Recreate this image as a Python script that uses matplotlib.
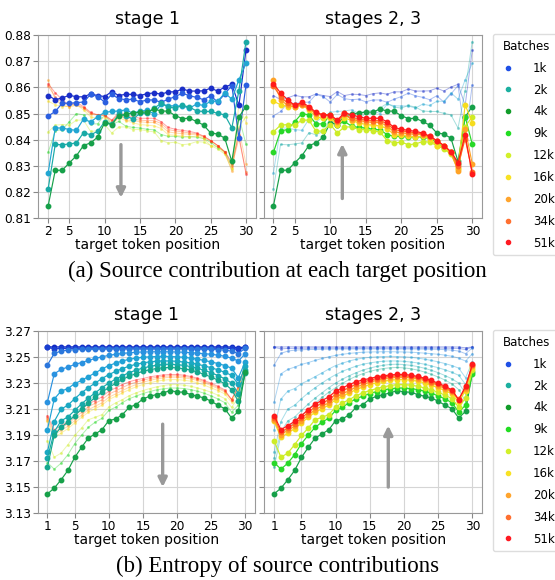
import matplotlib.pyplot as plt
from matplotlib.lines import Line2D

# x positions
pos_a = list(range(2, 31))
pos_b = list(range(1, 31))

# (a) source contribution, stage 1 checkpoints (1k .. 4k)
src_1k = [0.8569, 0.8553, 0.8560, 0.8570, 0.8564, 0.8564, 0.8575, 0.8569, 0.8565, 0.8584,
          0.8569, 0.8574, 0.8573, 0.8569, 0.8576, 0.8579, 0.8574, 0.8583, 0.8583, 0.8594,
          0.8586, 0.8586, 0.8587, 0.8597, 0.8586, 0.8601, 0.8612, 0.8531, 0.8742]
src_1_5k = [0.8491, 0.8508, 0.8540, 0.8539, 0.8542, 0.8544, 0.8573, 0.8565, 0.8544, 0.8573,
            0.8557, 0.8553, 0.8555, 0.8545, 0.8552, 0.8552, 0.8543, 0.8555, 0.8565, 0.8578,
            0.8568, 0.8562, 0.8553, 0.8568, 0.8544, 0.8575, 0.8607, 0.8407, 0.8609]
src_2k = [0.8274, 0.8445, 0.8445, 0.8439, 0.8436, 0.8479, 0.8468, 0.8488, 0.8505, 0.8508,
          0.8510, 0.8514, 0.8501, 0.8510, 0.8512, 0.8500, 0.8536, 0.8530, 0.8529, 0.8529,
          0.8521, 0.8536, 0.8531, 0.8547, 0.8547, 0.8579, 0.8555, 0.8629, 0.8692]
src_3k = [0.8213, 0.8382, 0.8381, 0.8384, 0.8388, 0.8427, 0.8419, 0.8432, 0.8469, 0.8460,
          0.8497, 0.8492, 0.8479, 0.8501, 0.8501, 0.8521, 0.8539, 0.8525, 0.8521, 0.8531,
          0.8525, 0.8510, 0.8508, 0.8508, 0.8501, 0.8495, 0.8445, 0.8588, 0.8775]
src_4k = [0.8148, 0.8283, 0.8284, 0.8312, 0.8339, 0.8378, 0.8388, 0.8410, 0.8465, 0.8458,
          0.8492, 0.8497, 0.8503, 0.8505, 0.8506, 0.8517, 0.8510, 0.8509, 0.8492, 0.8481,
          0.8482, 0.8470, 0.8456, 0.8426, 0.8422, 0.8406, 0.8317, 0.8487, 0.8527]
# stages 2, 3 checkpoints (9k .. 51k)
src_9k = [0.8352, 0.8434, 0.8439, 0.8469, 0.8500, 0.8495, 0.8460, 0.8461, 0.8495, 0.8458,
          0.8470, 0.8452, 0.8447, 0.8445, 0.8440, 0.8438, 0.8420, 0.8413, 0.8413, 0.8410,
          0.8412, 0.8410, 0.8405, 0.8390, 0.8370, 0.8355, 0.8307, 0.8488, 0.8383]
src_12k = [0.8430, 0.8456, 0.8458, 0.8456, 0.8475, 0.8475, 0.8432, 0.8434, 0.8458, 0.8426,
           0.8449, 0.8449, 0.8439, 0.8439, 0.8434, 0.8430, 0.8397, 0.8388, 0.8391, 0.8381,
           0.8384, 0.8393, 0.8391, 0.8378, 0.8365, 0.8345, 0.8287, 0.8450, 0.8488]
src_16k = [0.8547, 0.8534, 0.8527, 0.8527, 0.8534, 0.8514, 0.8488, 0.8482, 0.8484, 0.8456,
           0.8484, 0.8473, 0.8465, 0.8458, 0.8456, 0.8453, 0.8443, 0.8419, 0.8417, 0.8414,
           0.8410, 0.8414, 0.8404, 0.8378, 0.8375, 0.8348, 0.8294, 0.8534, 0.8465]
src_20k = [0.8627, 0.8553, 0.8531, 0.8527, 0.8531, 0.8521, 0.8497, 0.8495, 0.8495, 0.8466,
           0.8501, 0.8475, 0.8473, 0.8469, 0.8466, 0.8466, 0.8453, 0.8430, 0.8426, 0.8423,
           0.8421, 0.8419, 0.8410, 0.8394, 0.8378, 0.8352, 0.8280, 0.8442, 0.8308]
src_34k = [0.8605, 0.8564, 0.8540, 0.8534, 0.8536, 0.8523, 0.8501, 0.8495, 0.8492, 0.8473,
           0.8497, 0.8482, 0.8479, 0.8475, 0.8473, 0.8473, 0.8462, 0.8439, 0.8434, 0.8430,
           0.8426, 0.8423, 0.8413, 0.8397, 0.8378, 0.8352, 0.8300, 0.8404, 0.8277]
src_51k = [0.8614, 0.8579, 0.8553, 0.8531, 0.8543, 0.8527, 0.8505, 0.8495, 0.8495, 0.8475,
           0.8504, 0.8495, 0.8488, 0.8482, 0.8482, 0.8482, 0.8469, 0.8447, 0.8440, 0.8436,
           0.8432, 0.8426, 0.8414, 0.8397, 0.8378, 0.8355, 0.8313, 0.8417, 0.8270]

# (b) entropy, stage 1 checkpoints
ent_1k = [3.2579, 3.2577, 3.2578, 3.2578, 3.2578, 3.2578, 3.2578, 3.2578, 3.2578, 3.2578,
          3.2578, 3.2578, 3.2578, 3.2578, 3.2578, 3.2578, 3.2578, 3.2578, 3.2578, 3.2578,
          3.2578, 3.2578, 3.2578, 3.2578, 3.2578, 3.2578, 3.2578, 3.2577, 3.2571, 3.2578]
ent_1_25k = [3.2575, 3.2563, 3.2566, 3.2567, 3.2568, 3.2568, 3.2569, 3.2569, 3.2569, 3.2569,
             3.2569, 3.2569, 3.2569, 3.2569, 3.2569, 3.2569, 3.2569, 3.2569, 3.2569, 3.2569,
             3.2569, 3.2569, 3.2569, 3.2569, 3.2569, 3.2568, 3.2568, 3.2566, 3.2558, 3.2576]
ent_1_5k = [3.2438, 3.2528, 3.2546, 3.2553, 3.2556, 3.2558, 3.2559, 3.2560, 3.2561, 3.2561,
            3.2562, 3.2562, 3.2562, 3.2562, 3.2562, 3.2562, 3.2562, 3.2562, 3.2562, 3.2562,
            3.2562, 3.2561, 3.2561, 3.2560, 3.2559, 3.2557, 3.2553, 3.2546, 3.2526, 3.2570]
ent_1_75k = [3.2153, 3.2371, 3.2405, 3.2423, 3.2443, 3.2458, 3.2474, 3.2489, 3.2502, 3.2513,
             3.2521, 3.2528, 3.2533, 3.2537, 3.2539, 3.2540, 3.2541, 3.2541, 3.2540, 3.2539,
             3.2537, 3.2534, 3.2530, 3.2526, 3.2521, 3.2515, 3.2506, 3.2492, 3.2469, 3.2526]
ent_2k = [3.1942, 3.2178, 3.2238, 3.2258, 3.2296, 3.2320, 3.2350, 3.2378, 3.2408, 3.2435,
          3.2453, 3.2470, 3.2483, 3.2492, 3.2498, 3.2502, 3.2504, 3.2505, 3.2504, 3.2502,
          3.2498, 3.2492, 3.2484, 3.2474, 3.2463, 3.2450, 3.2435, 3.2415, 3.2341, 3.2464]
ent_2_5k = [3.1770, 3.2005, 3.2100, 3.2130, 3.2180, 3.2225, 3.2265, 3.2300, 3.2335, 3.2365,
            3.2390, 3.2412, 3.2430, 3.2445, 3.2455, 3.2463, 3.2468, 3.2470, 3.2470, 3.2467,
            3.2462, 3.2455, 3.2445, 3.2432, 3.2418, 3.2402, 3.2383, 3.2360, 3.2290, 3.2430]
ent_3k = [3.1724, 3.1925, 3.2010, 3.2040, 3.2090, 3.2140, 3.2185, 3.2225, 3.2265, 3.2300,
          3.2330, 3.2357, 3.2380, 3.2400, 3.2415, 3.2428, 3.2437, 3.2443, 3.2445, 3.2442,
          3.2436, 3.2427, 3.2414, 3.2398, 3.2380, 3.2358, 3.2333, 3.2300, 3.2220, 3.2400]
ent_3_5k = [3.1654, 3.1900, 3.1960, 3.2000, 3.2050, 3.2100, 3.2145, 3.2190, 3.2230, 3.2265,
            3.2298, 3.2328, 3.2353, 3.2373, 3.2390, 3.2403, 3.2412, 3.2418, 3.2420, 3.2417,
            3.2410, 3.2400, 3.2385, 3.2367, 3.2347, 3.2323, 3.2295, 3.2250, 3.2160, 3.2375]
ent_4k = [3.1449, 3.1493, 3.1557, 3.1629, 3.1729, 3.1806, 3.1878, 3.1909, 3.1942, 3.2012,
          3.2024, 3.2058, 3.2114, 3.2135, 3.2178, 3.2199, 3.2212, 3.2225, 3.2243, 3.2232,
          3.2230, 3.2212, 3.2199, 3.2186, 3.2161, 3.2130, 3.2104, 3.2032, 3.2083, 3.2387]
# stages 2, 3 checkpoints
ent_9k = [3.1690, 3.1639, 3.1685, 3.1750, 3.1835, 3.1900, 3.1960, 3.2000, 3.2030, 3.2090,
          3.2115, 3.2150, 3.2180, 3.2200, 3.2220, 3.2235, 3.2248, 3.2256, 3.2262, 3.2262,
          3.2258, 3.2250, 3.2238, 3.2222, 3.2202, 3.2178, 3.2150, 3.2078, 3.2130, 3.2370]
ent_12k = [3.1857, 3.1731, 3.1762, 3.1827, 3.1898, 3.1955, 3.2019, 3.2037, 3.2058, 3.2117,
           3.2148, 3.2173, 3.2204, 3.2225, 3.2243, 3.2258, 3.2271, 3.2281, 3.2289, 3.2289,
           3.2284, 3.2276, 3.2263, 3.2248, 3.2230, 3.2207, 3.2181, 3.2114, 3.2186, 3.2397]
ent_16k = [3.2006, 3.1883, 3.1916, 3.1950, 3.1994, 3.2037, 3.2076, 3.2104, 3.2130, 3.2173,
           3.2199, 3.2225, 3.2250, 3.2271, 3.2289, 3.2302, 3.2315, 3.2322, 3.2327, 3.2327,
           3.2322, 3.2315, 3.2302, 3.2284, 3.2263, 3.2243, 3.2217, 3.2155, 3.2243, 3.2417]
ent_20k = [3.2019, 3.1904, 3.1937, 3.1968, 3.2012, 3.2053, 3.2096, 3.2122, 3.2148, 3.2191,
           3.2217, 3.2243, 3.2268, 3.2289, 3.2307, 3.2320, 3.2333, 3.2340, 3.2345, 3.2345,
           3.2340, 3.2333, 3.2320, 3.2302, 3.2281, 3.2258, 3.2232, 3.2173, 3.2258, 3.2430]
ent_34k = [3.2035, 3.1924, 3.1955, 3.1988, 3.2032, 3.2075, 3.2118, 3.2145, 3.2172, 3.2215,
           3.2240, 3.2266, 3.2290, 3.2308, 3.2322, 3.2335, 3.2345, 3.2352, 3.2356, 3.2356,
           3.2351, 3.2343, 3.2330, 3.2312, 3.2290, 3.2267, 3.2240, 3.2175, 3.2267, 3.2437]
ent_51k = [3.2050, 3.1942, 3.1973, 3.2006, 3.2050, 3.2096, 3.2140, 3.2166, 3.2194, 3.2238,
           3.2263, 3.2289, 3.2310, 3.2325, 3.2335, 3.2348, 3.2356, 3.2363, 3.2366, 3.2366,
           3.2361, 3.2351, 3.2338, 3.2320, 3.2299, 3.2276, 3.2248, 3.2173, 3.2276, 3.2443]

legend_labels = ["1k", "2k", "4k", "9k", "12k", "16k", "20k", "34k", "51k"]

src_stage1 = [src_1k, src_1_5k, src_2k, src_3k, src_4k]
src_stage23 = [src_9k, src_12k, src_16k, src_20k, src_34k, src_51k]
ent_stage1 = [ent_1k, ent_1_25k, ent_1_5k, ent_1_75k, ent_2k, ent_2_5k, ent_3k, ent_3_5k, ent_4k]
ent_stage23 = [ent_9k, ent_12k, ent_16k, ent_20k, ent_34k, ent_51k]

# colours
c_src_s1 = ['#1a2ec8', '#2b5fe0', '#22a6d2', '#19aaa6', '#16a049']
c_ent_s1 = ['#1028c4', '#1a3fd0', '#2a76dc', '#2a92e0', '#21a2d6', '#1aa8c2', '#17a9aa', '#15a78e', '#16a049']
c_s23 = ['#28d828', '#cdec28', '#f6dc1e', '#ffa326', '#ff6c22', '#ff1a1a']
c_legend = ['#1f50e6', '#1cb0a0', '#129c2a', '#22dd22', '#d2f02a', '#f8e224', '#ffa52e', '#ff7030', '#ff1a22']

plt.rcParams['font.family'] = 'DejaVu Sans'

fig = plt.figure(figsize=(5.55, 5.8), dpi=100)
ax_a1 = fig.add_axes([0.069, 0.6236, 0.392, 0.316])
ax_a2 = fig.add_axes([0.4748, 0.6236, 0.394, 0.316])
ax_b1 = fig.add_axes([0.0676, 0.115, 0.392, 0.3143])
ax_b2 = fig.add_axes([0.476, 0.115, 0.393, 0.3143])

bold = dict(lw=0.85, marker='o', ms=3.2, alpha=1.0)
faint = dict(lw=0.7, marker='.', ms=2.5, alpha=0.38)


def draw(ax, x, s1, c1, s23, c23, stage1_bold):
    if stage1_bold:
        for ys, c in zip(s23, c23):
            ax.plot(x, ys, color=c, **faint)
        for ys, c in zip(s1, c1):
            ax.plot(x, ys, color=c, **bold)
    else:
        for ys, c in zip(s1[:-1], c1[:-1]):
            ax.plot(x, ys, color=c, **faint)
        ax.plot(x, s1[-1], color=c1[-1], **bold)
        for ys, c in zip(s23, c23):
            ax.plot(x, ys, color=c, **bold)


draw(ax_a1, pos_a, src_stage1, c_src_s1, src_stage23, c_s23, True)
draw(ax_a2, pos_a, src_stage1, c_src_s1, src_stage23, c_s23, False)
draw(ax_b1, pos_b, ent_stage1, c_ent_s1, ent_stage23, c_s23, True)
draw(ax_b2, pos_b, ent_stage1, c_ent_s1, ent_stage23, c_s23, False)

arrow = dict(arrowstyle='-|>', color='#999999', lw=2.4, mutation_scale=13)
ax_a1.annotate('', xy=(12.3, 0.8168), xytext=(12.3, 0.8392), arrowprops=arrow)
ax_a2.annotate('', xy=(11.7, 0.8395), xytext=(11.7, 0.8165), arrowprops=arrow)
ax_b1.annotate('', xy=(17.9, 3.148), xytext=(17.9, 3.2006), arrowprops=arrow)
ax_b2.annotate('', xy=(17.7, 3.1995), xytext=(17.7, 3.148), arrowprops=arrow)

for ax in (ax_a1, ax_a2):
    ax.set_ylim(0.81, 0.88)
    ax.set_yticks([0.81, 0.82, 0.83, 0.84, 0.85, 0.86, 0.87, 0.88])
    ax.set_xticks([2, 5, 10, 15, 20, 25, 30])
for ax in (ax_b1, ax_b2):
    ax.set_ylim(3.13, 3.27)
    ax.set_yticks([3.13, 3.15, 3.17, 3.19, 3.21, 3.23, 3.25, 3.27])
    ax.set_xticks([1, 5, 10, 15, 20, 25, 30])

for ax, title in zip((ax_a1, ax_a2, ax_b1, ax_b2), ('stage 1', 'stages 2, 3', 'stage 1', 'stages 2, 3')):
    ax.set_title(title, fontsize=12.5, pad=8)
    ax.set_xlabel('target token position', fontsize=10, labelpad=0)
    ax.grid(True, color='#d5d5d5', lw=0.8)
    ax.set_axisbelow(True)
    ax.tick_params(labelsize=8.7, color='#888888', length=3.5, pad=1.5)
    for sp in ax.spines.values():
        sp.set_color('#999999')

ax_a1.set_yticklabels(['0.81', '0.82', '0.83', '0.84', '0.85', '0.86', '0.87', '0.88'])
ax_b1.set_yticklabels(['3.13', '3.15', '3.17', '3.19', '3.21', '3.23', '3.25', '3.27'])
ax_a2.tick_params(labelleft=False)
ax_b2.tick_params(labelleft=False)

handles = [Line2D([], [], ls='none', marker='o', ms=3, color=c) for c in c_legend]
for ax in (ax_a2, ax_b2):
    leg = ax.legend(handles, legend_labels, title='Batches', loc='upper left',
                    bbox_to_anchor=(1.049, 1.006), borderaxespad=0, fontsize=8.5,
                    title_fontsize=8.5, labelspacing=0.75, handletextpad=1.3,
                    handlelength=1.6, borderpad=0.5, framealpha=1)
    leg.get_frame().set_edgecolor('#dddddd')

fig.text(0.5, 1 - 271 / 580, '(a) Source contribution at each target position',
         ha='center', va='center', fontsize=16.5, family='Liberation Serif')
fig.text(0.5, 1 - 566 / 580, '(b) Entropy of source contributions',
         ha='center', va='center', fontsize=16.5, family='Liberation Serif')

fig.savefig('out.png', dpi=100)
